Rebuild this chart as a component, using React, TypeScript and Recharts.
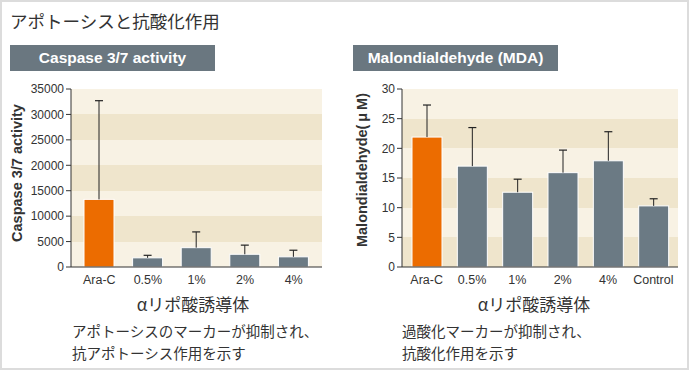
import React from 'react';
import { BarChart, Bar, XAxis, YAxis, CartesianGrid, Cell } from 'recharts';

const caspaseCats = ['Ara-C', '0.5%', '1%', '2%', '4%'];
const caspaseMean = [13300, 1800, 3800, 2500, 2000];
const caspaseUpper = [32700, 2300, 6900, 4300, 3300];
const caspaseTicks = [0, 5000, 10000, 15000, 20000, 25000, 30000, 35000];

const mdaCats = ['Ara-C', '0.5%', '1%', '2%', '4%', 'Control'];
const mdaMean = [21.9, 17.0, 12.6, 15.9, 17.9, 10.3];
const mdaUpper = [27.3, 23.5, 14.8, 19.7, 22.8, 11.5];
const mdaTicks = [0, 5, 10, 15, 20, 25, 30];

const ORANGE = '#ec6c00';
const GRAY = '#6b7a84';
const HEADER = '#6a7780';
const BANDS = ['#f8f2e4', '#efe5cc'];
const INK = '#333';
const LATIN = '"Liberation Sans", Arial, sans-serif';
const JP = '"Noto Sans CJK JP", sans-serif';

const caspaseData = caspaseCats.map((name, i) => ({ name, value: caspaseMean[i], top: caspaseUpper[i] }));
const mdaData = mdaCats.map((name, i) => ({ name, value: mdaMean[i], top: mdaUpper[i] }));

// bar with a one-sided (upper) error bar, scaled from the bar's own geometry
const BarWithError = (props: any) => {
  const { x, y, width, height, fill, payload } = props;
  const k = height / payload.value;
  const ey = y - (payload.top - payload.value) * k;
  const cx = x + width / 2;
  return (
    <g>
      <rect x={x} y={y} width={width} height={height} fill={fill} stroke="#fff" strokeWidth={1} />
      <line x1={cx} x2={cx} y1={y} y2={ey} stroke="#222" strokeWidth={1} />
      <line x1={cx - 4} x2={cx + 4} y1={ey} y2={ey} stroke="#222" strokeWidth={1.2} />
    </g>
  );
};

const tickStyle = { fontSize: 12, fill: INK, fontFamily: LATIN };

const Header = ({ left, text }: { left: number; text: string }) => (
  <div
    style={{
      position: 'absolute', left, top: 43, width: 205, height: 26, background: HEADER,
      color: '#fff', fontFamily: LATIN, fontWeight: 'bold', fontSize: 15.5,
      display: 'flex', alignItems: 'center', justifyContent: 'center',
    }}
  >
    {text}
  </div>
);

const VLabel = ({ cx, cy, text, size }: { cx: number; cy: number; text: string; size: number }) => (
  <div
    style={{
      position: 'absolute', left: cx, top: cy, transform: 'translate(-50%, -50%) rotate(-90deg)',
      whiteSpace: 'nowrap', fontFamily: LATIN, fontWeight: 'bold', fontSize: size, color: INK,
    }}
  >
    {text}
  </div>
);

const XLabel = ({ cx }: { cx: number }) => (
  <div
    style={{
      position: 'absolute', left: cx, top: 301, transform: 'translate(-50%, -50%)',
      whiteSpace: 'nowrap', fontFamily: JP, fontSize: 17, color: INK,
    }}
  >
    αリポ酸誘導体
  </div>
);

const Note = ({ left, lines }: { left: number; lines: string[] }) => (
  <div style={{ position: 'absolute', left, top: 318, fontFamily: JP, fontSize: 14.5, lineHeight: '22px', color: INK }}>
    {lines.map((l) => <div key={l}>{l}</div>)}
  </div>
);

export default function App() {
  return (
    <div
      style={{
        position: 'absolute', left: 0, top: 0, width: 689, height: 370, background: '#fff',
        border: '2px solid #dcdcdc', boxSizing: 'border-box', overflow: 'hidden',
      }}
    >
      <div style={{ position: 'absolute', left: 8, top: 6, fontFamily: JP, fontSize: 17.5, color: INK }}>
        アポトーシスと抗酸化作用
      </div>
      <Header left={8} text="Caspase 3/7 activity" />
      <Header left={351} text="Malondialdehyde (MDA)" />

      <div style={{ position: 'absolute', left: -2, top: 78 }}>
        <BarChart width={345} height={210} data={caspaseData} margin={{ top: 9, right: 23, bottom: 3, left: 0 }}>
          <CartesianGrid vertical={false} stroke="none" horizontalFill={BANDS} />
          <XAxis dataKey="name" height={20} tickLine={false} axisLine={{ stroke: INK }} tick={{ ...tickStyle, fontSize: 12.5 }}
            padding={{ left: 4, right: 4 }} interval={0} />
          <YAxis width={71} domain={[0, 35000]} ticks={caspaseTicks} tick={tickStyle} tickSize={5} tickMargin={2}
            axisLine={{ stroke: INK }} tickLine={{ stroke: INK }} interval={0} />
          <Bar dataKey="value" barSize={30} isAnimationActive={false} shape={BarWithError}>
            {caspaseData.map((_d, i) => <Cell key={`c-${i}`} fill={i === 0 ? ORANGE : GRAY} />)}
          </Bar>
        </BarChart>
      </div>

      <div style={{ position: 'absolute', left: 343, top: 78 }}>
        <BarChart width={344} height={210} data={mdaData} margin={{ top: 9, right: 11, bottom: 3, left: 0 }}>
          <CartesianGrid vertical={false} stroke="none" horizontalFill={BANDS} />
          <XAxis dataKey="name" height={20} tickLine={false} axisLine={{ stroke: INK }} tick={{ ...tickStyle, fontSize: 12.5 }}
            padding={{ left: 2, right: 2 }} interval={0} />
          <YAxis width={57} domain={[0, 30]} ticks={mdaTicks} tick={tickStyle} tickSize={5} tickMargin={2}
            axisLine={{ stroke: INK }} tickLine={{ stroke: INK }} interval={0} />
          <Bar dataKey="value" barSize={30} isAnimationActive={false} shape={BarWithError}>
            {mdaData.map((_d, i) => <Cell key={`m-${i}`} fill={i === 0 ? ORANGE : GRAY} />)}
          </Bar>
        </BarChart>
      </div>

      <VLabel cx={15} cy={171} text="Caspase 3/7 activity" size={14.5} />
      <VLabel cx={360} cy={168} text={'Malondialdehyde(\u2009μ\u2009M)'} size={14.5} />
      <XLabel cx={191} />
      <XLabel cx={532} />

      <Note left={70} lines={['アポトーシスのマーカーが抑制され、', '抗アポトーシス作用を示す']} />
      <Note left={400} lines={['過酸化マーカーが抑制され、', '抗酸化作用を示す']} />
    </div>
  );
}
